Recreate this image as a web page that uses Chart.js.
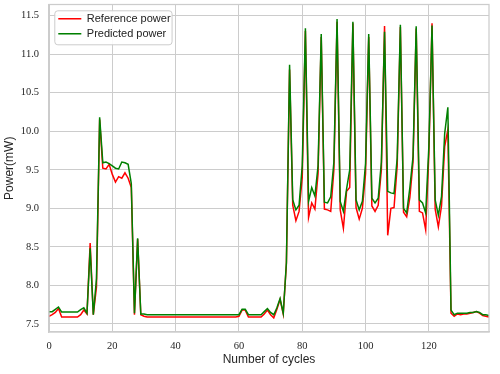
<!DOCTYPE html>
<html>
<head>
<meta charset="utf-8">
<script src="https://cdn.jsdelivr.net/npm/chart.js@4.4.0/dist/chart.umd.min.js"></script>
<style>
  body { margin: 0; background: #fff; }
  canvas { display: block; }
</style>
</head>
<body>
<canvas id="chart" width="500" height="374"></canvas>
<script>
// eixo x: ciclos 0..139
const ciclos = [
  0, 1, 2, 3, 4, 5, 6, 7, 8, 9, 10, 11, 12, 13, 14, 15, 16, 17, 18, 19,
  20, 21, 22, 23, 24, 25, 26, 27, 28, 29, 30, 31, 32, 33, 34, 35, 36, 37, 38, 39,
  40, 41, 42, 43, 44, 45, 46, 47, 48, 49, 50, 51, 52, 53, 54, 55, 56, 57, 58, 59,
  60, 61, 62, 63, 64, 65, 66, 67, 68, 69, 70, 71, 72, 73, 74, 75, 76, 77, 78, 79,
  80, 81, 82, 83, 84, 85, 86, 87, 88, 89, 90, 91, 92, 93, 94, 95, 96, 97, 98, 99,
  100, 101, 102, 103, 104, 105, 106, 107, 108, 109, 110, 111, 112, 113, 114, 115, 116, 117, 118, 119,
  120, 121, 122, 123, 124, 125, 126, 127, 128, 129, 130, 131, 132, 133, 134, 135, 136, 137, 138, 139
];

const potenciaReferencia = [
  7.60, 7.62, 7.65, 7.70, 7.59, 7.59, 7.59, 7.59, 7.59, 7.59,
  7.62, 7.68, 7.63, 8.55, 7.62, 7.98, 10.15, 9.52, 9.51, 9.57,
  9.44, 9.34, 9.41, 9.39, 9.46, 9.39, 9.27, 7.62, 8.60, 7.62,
  7.60, 7.59, 7.59, 7.59, 7.59, 7.59, 7.59, 7.59, 7.59, 7.59,
  7.59, 7.59, 7.59, 7.59, 7.59, 7.59, 7.59, 7.59, 7.59, 7.59,
  7.59, 7.59, 7.59, 7.59, 7.59, 7.59, 7.59, 7.59, 7.59, 7.59,
  7.60, 7.68, 7.68, 7.59, 7.59, 7.59, 7.59, 7.59, 7.63, 7.68,
  7.62, 7.58, 7.69, 7.82, 7.63, 8.28, 10.80, 9.04, 8.84, 8.96,
  9.40, 11.30, 8.88, 9.07, 8.99, 9.45, 11.22, 8.99, 8.98, 8.96,
  9.50, 11.42, 8.98, 8.74, 9.22, 9.27, 11.40, 9.01, 8.86, 9.00,
  9.45, 11.22, 9.03, 8.96, 9.04, 9.50, 11.365, 8.65, 9.00, 9.01,
  9.55, 11.35, 8.95, 8.89, 9.14, 9.60, 11.33, 8.96, 8.94, 8.72,
  9.70, 11.40, 8.99, 8.76, 9.03, 9.80, 10.02, 7.64, 7.60, 7.63,
  7.62, 7.63, 7.63, 7.64, 7.65, 7.66, 7.64, 7.61, 7.60, 7.59
];

const potenciaPrevista = [
  7.66, 7.66, 7.69, 7.72, 7.655, 7.655, 7.655, 7.655, 7.655, 7.655,
  7.685, 7.71, 7.64, 8.48, 7.62, 8.09, 10.18, 9.59, 9.60, 9.58,
  9.55, 9.52, 9.51, 9.60, 9.59, 9.57, 9.32, 7.64, 8.61, 7.63,
  7.63, 7.62, 7.62, 7.62, 7.62, 7.62, 7.62, 7.62, 7.62, 7.62,
  7.62, 7.62, 7.62, 7.62, 7.62, 7.62, 7.62, 7.62, 7.62, 7.62,
  7.62, 7.62, 7.62, 7.62, 7.62, 7.62, 7.62, 7.62, 7.62, 7.62,
  7.62, 7.69, 7.69, 7.62, 7.62, 7.62, 7.62, 7.62, 7.66, 7.70,
  7.65, 7.62, 7.71, 7.83, 7.64, 8.30, 10.86, 9.11, 8.98, 9.04,
  9.55, 11.335, 9.09, 9.27, 9.16, 9.55, 11.26, 9.08, 9.07, 9.15,
  9.60, 11.455, 9.09, 8.96, 9.25, 9.50, 11.42, 9.11, 8.98, 9.09,
  9.58, 11.26, 9.13, 9.07, 9.13, 9.60, 11.29, 9.22, 9.20, 9.19,
  9.65, 11.38, 9.00, 8.94, 9.27, 9.67, 11.36, 9.11, 9.07, 8.94,
  9.80, 11.37, 9.11, 8.91, 9.15, 9.97, 10.31, 7.68, 7.62, 7.64,
  7.64, 7.64, 7.64, 7.65, 7.65, 7.66, 7.65, 7.62, 7.62, 7.61
];

const ticksX = [0, 20, 40, 60, 80, 100, 120];
const ticksY = [7.5, 8.0, 8.5, 9.0, 9.5, 10.0, 10.5, 11.0, 11.5];

const CINZA = '#cccccc';
const TEXTO = '#262626';

function pontos(valores) {
  return ciclos.map((c, i) => ({ x: c, y: valores[i] }));
}

// legenda dentro da área do gráfico + moldura (estilo matplotlib)
const moldura = {
  id: 'moldura',
  afterLayout(chart) {
    const lg = chart.legend;
    const a = chart.chartArea;
    const dx = a.left + 5.3 - lg.left;
    const dy = a.top + 4.8 - lg.top;
    lg.left += dx; lg.right += dx;
    lg.top += dy; lg.bottom += dy;
    (lg.legendHitBoxes || []).forEach(b => { b.left += dx; b.top += dy; });
  },
  afterDraw(chart) {
    const { ctx, chartArea: a } = chart;
    ctx.save();
    ctx.strokeStyle = CINZA;
    ctx.lineWidth = 1.25;
    ctx.strokeRect(a.left, a.top, a.right - a.left, a.bottom - a.top);

    const lg = chart.legend;
    const caixas = lg.legendHitBoxes;
    if (caixas && caixas.length) {
      const pad = lg.options.labels.padding;
      const inicio = lg.left + pad;           // início da amostra de linha
      const largura = Math.max(...caixas.map(b => b.width));
      const x0 = inicio - 4;
      const x1 = inicio + largura + 1;
      const y0 = Math.min(...caixas.map(b => b.top)) - 3;
      const y1 = Math.max(...caixas.map(b => b.top + b.height)) + 5;
      ctx.beginPath();
      ctx.roundRect(x0 + 0.5, y0 + 0.5, x1 - x0, y1 - y0, 3);
      ctx.fillStyle = 'rgba(255,255,255,0.9)';
      ctx.fill();
      ctx.strokeStyle = CINZA;
      ctx.lineWidth = 1;
      ctx.stroke();
      ctx.restore();
      lg.draw();
      return;
    }
    ctx.restore();
  }
};

new Chart(document.getElementById('chart'), {
  type: 'line',
  data: {
    datasets: [
      {
        label: 'Reference power',
        data: pontos(potenciaReferencia),
        borderColor: '#ff0000',
        backgroundColor: '#ff0000',
        borderWidth: 1.5,
        pointRadius: 0,
        tension: 0,
        order: 1
      },
      {
        label: 'Predicted power',
        data: pontos(potenciaPrevista),
        borderColor: '#008000',
        backgroundColor: '#008000',
        borderWidth: 1.5,
        pointRadius: 0,
        tension: 0,
        order: 0
      }
    ]
  },
  options: {
    responsive: false,
    animation: false,
    layout: { padding: { left: 0, right: 11, top: 4.5, bottom: 0 } },
    plugins: {
      tooltip: { enabled: false },
      legend: {
        position: 'chartArea',
        align: 'start',
        labels: {
          usePointStyle: true,
          pointStyle: 'line',
          pointStyleWidth: 23,
          padding: 4,
          color: TEXTO,
          font: { family: '"Liberation Sans", Arial, sans-serif', size: 11 },
          sort: (a, b) => a.datasetIndex - b.datasetIndex
        }
      }
    },
    scales: {
      x: {
        type: 'linear',
        min: 0,
        max: 139,
        afterFit: s => { s.height = 42; s.paddingLeft = 0; s.paddingRight = 0; },
        afterBuildTicks: s => { s.ticks = ticksX.map(v => ({ value: v })); },
        ticks: {
          color: TEXTO,
          padding: 8,
          font: { family: '"Liberation Serif", serif', size: 10.5 }
        },
        grid: { color: CINZA, lineWidth: 1, drawTicks: false },
        border: { color: CINZA, width: 1.25 },
        title: {
          display: true,
          text: 'Number of cycles',
          color: TEXTO,
          padding: { top: 7, bottom: 7 },
          font: { family: '"Liberation Sans", Arial, sans-serif', size: 12 }
        }
      },
      y: {
        min: 7.396,
        max: 11.643,
        afterFit: s => { s.width = 49; s.paddingTop = 0; s.paddingBottom = 0; },
        afterBuildTicks: s => { s.ticks = ticksY.map(v => ({ value: v })); },
        ticks: {
          color: TEXTO,
          padding: 10,
          font: { family: '"Liberation Serif", serif', size: 10.5 },
          callback: v => v.toFixed(1)
        },
        grid: { color: CINZA, lineWidth: 1, drawTicks: false },
        border: { color: CINZA, width: 1.25 },
        title: {
          display: true,
          text: 'Power(mW)',
          color: TEXTO,
          padding: { top: 2, bottom: 2 },
          font: { family: '"Liberation Sans", Arial, sans-serif', size: 12 }
        }
      }
    }
  },
  plugins: [moldura]
});
</script>
</body>
</html>
